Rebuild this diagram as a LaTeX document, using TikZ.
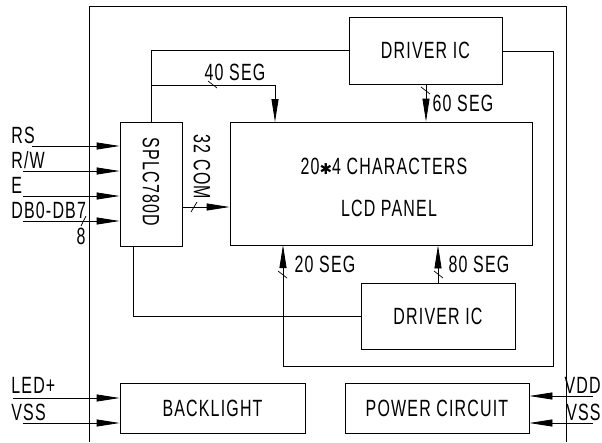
\documentclass[tikz,border=0pt]{standalone}
\usepackage{fontspec}
\setmainfont{Liberation Sans}[FakeStretch=0.68,LetterSpace=5]
\newfontfamily\symfont{DejaVu Sans}
\usetikzlibrary{arrows.meta,calc}
\begin{document}
\begin{tikzpicture}[x=1pt,y=-1pt,
  line width=0.8pt,
  box/.style={draw,inner sep=0pt,rectangle},
  lbl/.style={inner sep=0pt,font=\fontsize{23.5}{27}\selectfont},
  arr/.style={-{Triangle[length=23pt,width=7pt]}},
  tick/.style={line width=0.7pt}]
\useasboundingbox (0,0) rectangle (602,442);
% frame
\draw (89,442) -- (89,6) -- (566,6) -- (566,442);
% boxes
\node[box,minimum width=62pt,minimum height=124pt] (splc) at (151,184) {};
\node[lbl,rotate=-90] (splct) at (151,182) {SPLC780D};
\node[box,minimum width=302pt,minimum height=123pt] (lcd) at (381,183.5) {};
\node[lbl] (lcd1) at (384,166) {20{\symfont\fontsize{15}{18}\selectfont ✱}4 CHARACTERS};
\node[lbl] (lcd2) at (389,208) {LCD PANEL};
\node[box,lbl,minimum width=153pt,minimum height=67pt] (drvT) at (425.5,50.5) {DRIVER IC};
\node[box,lbl,minimum width=154pt,minimum height=66pt] (drvB) at (438,316) {DRIVER IC};
\node[box,lbl,minimum width=185pt,minimum height=50pt] (bl) at (212.5,408) {BACKLIGHT};
\node[box,lbl,minimum width=184pt,minimum height=50pt] (pwr) at (437,408) {POWER CIRCUIT};
% input labels
\node[lbl,anchor=west] (lrs) at (11,135) {RS};
\node[lbl,anchor=west] (lrw) at (11,160) {R/W};
\node[lbl,anchor=west] (le) at (11,185) {E};
\node[lbl,anchor=west] (ldb) at (11,210) {DB0-DB7};
\node[lbl] (l8) at (81,236) {8};
\node[lbl,anchor=west] (lled) at (11,385) {LED+};
\node[lbl,anchor=west] (lvss) at (11,412) {VSS};
\node[lbl,anchor=east] (lvdd) at (601,385) {VDD};
\node[lbl,anchor=east] (lvss2) at (601,412) {VSS};
% connector labels
\node[lbl] (t40) at (235,72) {40 SEG};
\node[lbl] (t60) at (463,103) {60 SEG};
\node[lbl] (t20) at (325,264) {20 SEG};
\node[lbl] (t80) at (479,264) {80 SEG};
\node[lbl,rotate=-90] (t32) at (202,167) {32 COM};
% free ends
\coordinate (irs) at (32,146);
\coordinate (irw) at (23,171);
\coordinate (ie) at (23,196);
\coordinate (idb) at (23,221);
\coordinate (iled) at (13,398);
\coordinate (ivss) at (23,423);
\coordinate (ivdd) at (593,396);
\coordinate (ivss2) at (593,423);
% input arrows
\draw[arr] (irs) -- (irs -| splc.west);
\draw[arr] (irw) -- (irw -| splc.west);
\draw[arr] (ie) -- (ie -| splc.west);
\draw[arr] (idb) -- (idb -| splc.west);
\draw[arr] (iled) -- (iled -| bl.west);
\draw[arr] (ivss) -- (ivss -| bl.west);
\draw[arr] (ivdd) -- (ivdd -| pwr.east);
\draw[arr] (ivss2) -- (ivss2 -| pwr.east);
% internal connectors
\coordinate (c32) at (182,207);
\draw[arr] (c32) -- (c32 -| lcd.west);
\draw (drvT.west) -| (splc.north);
\coordinate (j40) at (151,85);
\coordinate (e40) at (275,122);
\draw[arr] (j40) -| (e40);
\coordinate (s60) at (426,84);
\draw[arr] (s60) -- (s60 |- lcd.north);
\coordinate (s80) at (438,283);
\draw[arr] (s80) -- (s80 |- lcd.south);
\coordinate (r1) at (553,51);
\coordinate (r2) at (553,366);
\coordinate (e20) at (283,245);
\draw[arr] (drvT.east |- r1) -- (r1) -- (r2) -| (e20);
\coordinate (b1) at (133,316);
\coordinate (b2) at (133,246);
\draw (drvB.west) -- (b1) -- (b2);
% ticks
\draw[tick] (191,212) -- (197,202);
\draw[tick] (81,226) -- (86,216);
\draw[tick] (208,81) -- (217,88);
\draw[tick] (421,87) -- (430,94);
\draw[tick] (278,271) -- (287,278);
\draw[tick] (434,271) -- (443,278);
\end{tikzpicture}
\end{document}
